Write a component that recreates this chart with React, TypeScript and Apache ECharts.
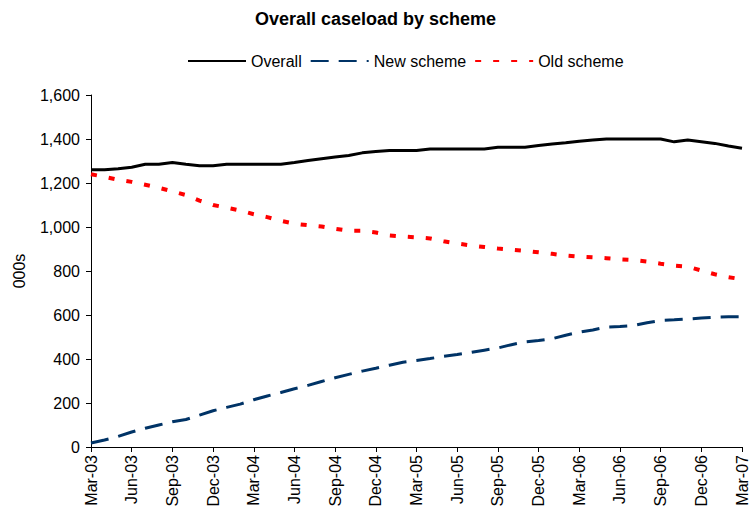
import React, { useEffect, useRef } from "react";
import * as echarts from "echarts";

const categories = [
  "Mar-03", "Apr-03", "May-03", "Jun-03", "Jul-03", "Aug-03", "Sep-03", "Oct-03", "Nov-03", "Dec-03", "Jan-04", "Feb-04",
  "Mar-04", "Apr-04", "May-04", "Jun-04", "Jul-04", "Aug-04", "Sep-04", "Oct-04", "Nov-04", "Dec-04", "Jan-05", "Feb-05",
  "Mar-05", "Apr-05", "May-05", "Jun-05", "Jul-05", "Aug-05", "Sep-05", "Oct-05", "Nov-05", "Dec-05", "Jan-06", "Feb-06",
  "Mar-06", "Apr-06", "May-06", "Jun-06", "Jul-06", "Aug-06", "Sep-06", "Oct-06", "Nov-06", "Dec-06", "Jan-07", "Feb-07",
  "Mar-07",
];

const overall = [
  1260, 1260, 1265, 1272, 1285, 1285, 1293, 1285, 1278, 1278, 1285, 1285,
  1285, 1285, 1285, 1293, 1302, 1310, 1318, 1325, 1337, 1343, 1348, 1348,
  1348, 1355, 1355, 1355, 1355, 1355, 1362, 1362, 1362, 1370, 1377, 1383,
  1390, 1395, 1400, 1400, 1400, 1400, 1400, 1387, 1395, 1388, 1380, 1368,
  1358,
];

const newScheme = [
  18, 32, 48, 68, 85, 100, 115, 125, 145, 165, 180, 195,
  215, 232, 248, 265, 280, 298, 315, 330, 345, 358, 372, 385,
  393, 402, 412, 420, 430, 440, 450, 465, 478, 484, 492, 508,
  522, 532, 545, 548, 552, 565, 575, 578, 582, 586, 590, 592,
  592,
];

const oldScheme = [
  1240, 1228, 1215, 1205, 1192, 1178, 1162, 1145, 1120, 1100, 1088, 1075,
  1058, 1045, 1028, 1015, 1008, 1002, 992, 983, 983, 975, 962, 957,
  953, 948, 935, 925, 916, 909, 902, 897, 892, 885, 878, 870,
  865, 862, 858, 853, 850, 843, 833, 825, 820, 802, 785, 772,
  762,
];

const FONT = "'Liberation Sans', Arial, sans-serif";

export default function App() {
  const ref = useRef<HTMLDivElement>(null);
  useEffect(() => {
    const chart = echarts.init(ref.current!, null, { renderer: "svg" });
    chart.setOption({
      animation: false,
      backgroundColor: "#fff",
      textStyle: { fontFamily: FONT, color: "#000" },
      title: {
        text: "Overall caseload by scheme",
        left: "center",
        top: 5,
        textStyle: { fontFamily: FONT, fontSize: 18, fontWeight: "bold", color: "#000" },
      },
      legend: {
        left: 187,
        top: 53,
        padding: 0,
        itemWidth: 58,
        itemHeight: 14,
        itemGap: 8,
        itemStyle: { opacity: 0 },
        textStyle: { fontFamily: FONT, fontSize: 16, color: "#000" },
        data: ["Overall", "New scheme", "Old scheme"],
      },
      grid: { left: 91, right: 9, top: 95, bottom: 62, containLabel: false, outerBoundsMode: "none" },
      xAxis: {
        type: "category",
        data: categories,
        boundaryGap: false,
        axisLine: { lineStyle: { color: "#000", width: 1 } },
        axisTick: { interval: 2, length: 5, lineStyle: { color: "#000" } },
        axisLabel: {
          interval: 2,
          rotate: 90,
          margin: 8,
          fontFamily: FONT,
          fontSize: 16,
          color: "#000",
        },
        splitLine: { show: false },
      },
      yAxis: {
        type: "value",
        min: 0,
        max: 1600,
        interval: 200,
        name: "000s",
        nameLocation: "middle",
        nameGap: 64,
        nameTextStyle: { fontFamily: FONT, fontSize: 16, color: "#000" },
        axisLine: { show: true, lineStyle: { color: "#000", width: 1 } },
        axisTick: { show: true, length: 5, lineStyle: { color: "#000" } },
        axisLabel: {
          margin: 11,
          fontFamily: FONT,
          fontSize: 16,
          color: "#000",
          formatter: (v: number) => v.toLocaleString("en-US"),
        },
        splitLine: { show: false },
      },
      series: [
        {
          name: "Overall",
          type: "line",
          data: overall,
          symbol: "none",
          itemStyle: { color: "#000000" },
          lineStyle: { color: "#000000", width: 3 },
          z: 3,
        },
        {
          name: "New scheme",
          type: "line",
          data: newScheme,
          symbol: "none",
          itemStyle: { color: "#003366" },
          lineStyle: { color: "#003366", width: 3, type: [18, 10] },
          z: 2,
        },
        {
          name: "Old scheme",
          type: "line",
          data: oldScheme,
          symbol: "none",
          itemStyle: { color: "#FF0000" },
          lineStyle: { color: "#FF0000", width: 4, type: [6, 12] },
          z: 2,
        },
      ],
    });
    return () => chart.dispose();
  }, []);
  return (
    <div
      ref={ref}
      style={{ position: "absolute", left: 0, top: 0, width: 751, height: 509, background: "#fff" }}
    />
  );
}
